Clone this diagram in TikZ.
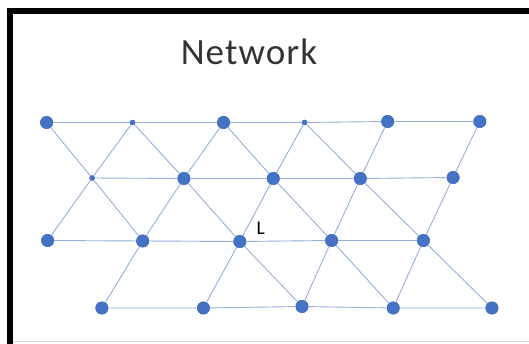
\documentclass[tikz,border=0pt]{standalone}
\usepackage{fontspec}
\setmainfont{Carlito}
\usepackage{xcolor}
\usepackage{tikz}
\usetikzlibrary{
	shapes.geometric,
	positioning
}
\definecolor{dotblue}{HTML}{4472C4}
\definecolor{dotrim}{HTML}{3A64B0}
\definecolor{linkblue}{HTML}{94AEDD}

\begin{document}
\begin{tikzpicture}[x=1pt, y=-1pt,
				dot/.style={
					circle, draw=dotrim, fill=dotblue, line width=0.5pt,
					minimum size=12.5pt, inner sep=0pt
				},
				smalldot/.style={
					dot, minimum size=5pt
				},
				link/.style={draw=linkblue, line width=0.9pt},
				]
				\clip (0,0) rectangle (529,344);
				\useasboundingbox (0,0) rectangle (529,344);
				
				%frame
				\draw[gray!30, line width=1.2pt] (13,341.5) -- (540,341.5);
				\draw[black, line width=6pt] (9.8,400) |- (560,11);
				
				\node[anchor=base, font=\fontsize{37}{40}\selectfont\addfontfeature{LetterSpace=3}, text=black!80] (title) at (249,65) {Network};
				
				%1. row
				\node[dot] (a1) at (46.6,122.5) {};
				\node[smalldot] (a2) at (132.6,122.5) {};
				\node[dot] (a3) at (223.5,122.5) {};
				\node[smalldot] (a4) at (304.5,122.5) {};
				\node[dot] (a5) at (387.6,121.5) {};
				\node[dot] (a6) at (479.8,121.5) {};
				
				%2. row
				\node[smalldot] (b1) at (92.1,178) {};
				\node[dot] (b2) at (183.9,178.5) {};
				\node[dot] (b3) at (273.3,178.5) {};
				\node[dot] (b4) at (360.3,178.5) {};
				\node[dot] (b5) at (453.1,177.5) {};
				
				%3. row
				\node[dot] (c1) at (47.6,240.5) {};
				\node[dot] (c2) at (142.7,241) {};
				\node[dot] (c3) at (239.8,241.5) {};
				\node[dot] (c4) at (331.6,240.5) {};
				\node[dot] (c5) at (423.4,240.5) {};
				
				\node[anchor=base west, font=\fontsize{19.5}{22}\selectfont, inner sep=0pt] (lbl) at (256.5,235) {L};
				
				%4. row
				\node[dot] (d1) at (101.9,308) {};
				\node[dot] (d2) at (203.4,308) {};
				\node[dot] (d3) at (302,306.5) {};
				\node[dot] (d4) at (393.2,308) {};
				\node[dot] (d5) at (491.9,308) {};
				
				%horizontal links
				\draw[link] (a1) -- (a2) -- (a3) -- (a4) -- (a5) -- (a6);
				\draw[link] (b1) -- (b2) -- (b3) -- (b4) -- (b5);
				\draw[link] (c1) -- (c2) -- (c3) -- (c4) -- (c5);
				\draw[link] (d1) -- (d2) -- (d3) -- (d4) -- (d5);
				
				%between 1. and 2. row
				\draw[link] (a1) -- (b1);
				\draw[link] (a2) -- (b1);
				\draw[link] (a2) -- (b2);
				\draw[link] (a3) -- (b2);
				\draw[link] (a3) -- (b3);
				\draw[link] (a4) -- (b3);
				\draw[link] (a4) -- (b4);
				\draw[link] (a5) -- (b4);
				\draw[link] (a6) -- (b5);
				
				%between 2. and 3. row
				\draw[link] (b1) -- (c1);
				\draw[link] (b1) -- (c2);
				\draw[link] (b2) -- (c2);
				\draw[link] (b2) -- (c3);
				\draw[link] (b3) -- (c3);
				\draw[link] (b3) -- (c4);
				\draw[link] (b4) -- (c4);
				\draw[link] (b4) -- (c5);
				\draw[link] (b5) -- (c5);
				
				%between 3. and 4. row
				\draw[link] (c2) -- (d1);
				\draw[link] (c3) -- (d2);
				\draw[link] (c3) -- (d3);
				\draw[link] (c4) -- (d3);
				\draw[link] (c4) -- (d4);
				\draw[link] (c5) -- (d4);
				\draw[link] (c5) -- (d5);
			\end{tikzpicture}
\end{document}
